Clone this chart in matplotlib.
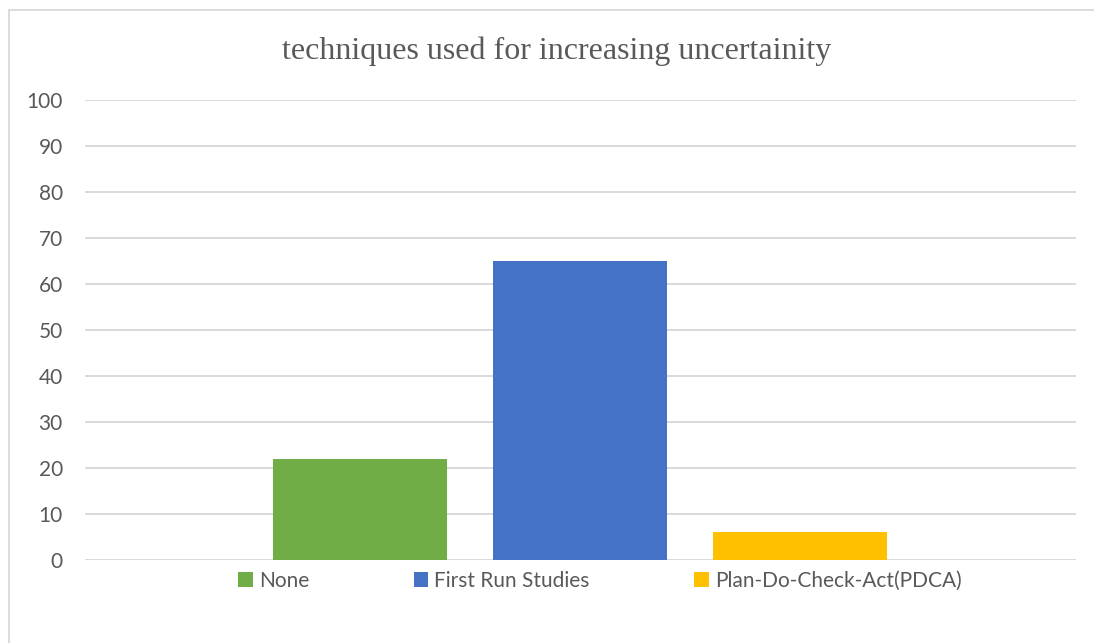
import matplotlib.pyplot as plt
from matplotlib.patches import Rectangle, Patch

# data
categories = ["None", "First Run Studies", "Plan-Do-Check-Act(PDCA)"]
values = [22, 65, 6]
colors = ["#70AD47", "#4472C4", "#FFC000"]
yticks = list(range(0, 101, 10))

W, H = 1094, 643
fig = plt.figure(figsize=(W / 100, H / 100), dpi=100)

# outer chart border (cut off at right and bottom)
fig.patches.append(Rectangle((9 / W, -0.5), 2.0, 1.5 - 10 / H,
                             transform=fig.transFigure, fill=False,
                             edgecolor="#D9D9D9", linewidth=1.3))

ax = fig.add_axes([85 / W, 1 - 560 / H, 991 / W, 460 / H])

pos = list(range(len(categories)))
ax.bar(pos, values, width=0.79, color=colors, zorder=3)

ax.set_xlim(-1.25, 3.255)
ax.set_ylim(0, 100)
ax.set_yticks(yticks)
ax.set_xticks([])
for s in ax.spines.values():
    s.set_visible(False)
ax.grid(axis="y", color="#D9D9D9", linewidth=1.4, zorder=0)
ax.tick_params(axis="y", length=0, pad=16, labelsize=15, labelcolor="#595959")
for lab in ax.get_yticklabels():
    lab.set_fontfamily("Lato")

fig.text(557 / W, 1 - 51 / H, "techniques used for increasing uncertainity",
         ha="center", va="center", fontsize=23, color="#595959",
         family="Liberation Serif")

handles = [Patch(facecolor=c, edgecolor="none") for c in colors]
fig.legend(handles, categories, loc="center", bbox_to_anchor=(600 / W, 1 - 581 / H),
           ncol=3, frameon=False, handlelength=0.7, handleheight=0.7,
           handletextpad=0.3, columnspacing=5.0,
           prop={"family": "Lato", "size": 15}, labelcolor="#595959")

fig.savefig("out.png", dpi=100)
